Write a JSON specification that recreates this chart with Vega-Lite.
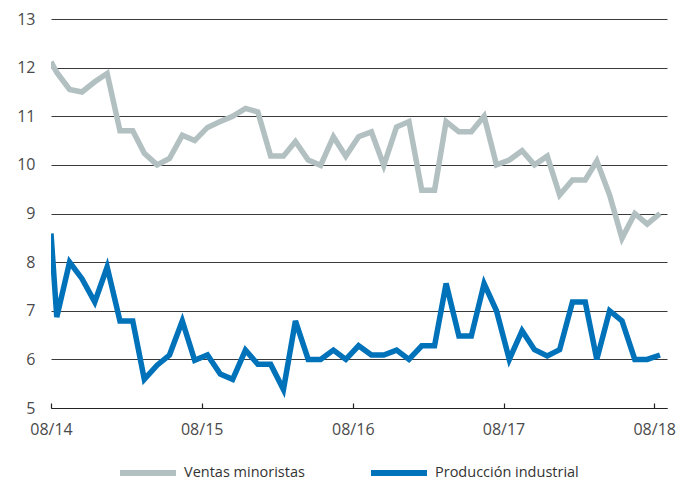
{
  "$schema": "https://vega.github.io/schema/vega-lite/v6.json",
  "autosize": "none",
  "width": 616,
  "height": 389,
  "padding": {"left": 51, "top": 19, "right": 29, "bottom": 74},
  "background": "white",
  "config": {
    "view": {"stroke": null},
    "font": "Open Sans",
    "axis": {"labelFont": "Open Sans", "labelFontSize": 16, "labelColor": "#4a4a4a"},
    "legend": {"labelFont": "Open Sans", "labelFontSize": 14.5, "labelColor": "#333333"}
  },
  "data": {
    "values": [
      {"d": "2014-08-01", "Ventas minoristas": 12.12, "Producción industrial": 8.59},
      {"d": "2014-08-15", "Ventas minoristas": 11.9, "Producción industrial": 6.87},
      {"d": "2014-09-15", "Ventas minoristas": 11.55, "Producción industrial": 8.0},
      {"d": "2014-10-15", "Ventas minoristas": 11.5, "Producción industrial": 7.66},
      {"d": "2014-11-15", "Ventas minoristas": 11.71, "Producción industrial": 7.18},
      {"d": "2014-12-15", "Ventas minoristas": 11.88, "Producción industrial": 7.9},
      {"d": "2015-01-15", "Ventas minoristas": 10.7, "Producción industrial": 6.79},
      {"d": "2015-02-15", "Ventas minoristas": 10.7, "Producción industrial": 6.79},
      {"d": "2015-03-15", "Ventas minoristas": 10.24, "Producción industrial": 5.59},
      {"d": "2015-04-15", "Ventas minoristas": 10.0, "Producción industrial": 5.88},
      {"d": "2015-05-15", "Ventas minoristas": 10.13, "Producción industrial": 6.09},
      {"d": "2015-06-15", "Ventas minoristas": 10.61, "Producción industrial": 6.79},
      {"d": "2015-07-15", "Ventas minoristas": 10.5, "Producción industrial": 5.98},
      {"d": "2015-08-15", "Ventas minoristas": 10.77, "Producción industrial": 6.09},
      {"d": "2015-09-15", "Ventas minoristas": 10.89, "Producción industrial": 5.7},
      {"d": "2015-10-15", "Ventas minoristas": 11.0, "Producción industrial": 5.59},
      {"d": "2015-11-15", "Ventas minoristas": 11.16, "Producción industrial": 6.19},
      {"d": "2015-12-15", "Ventas minoristas": 11.09, "Producción industrial": 5.9},
      {"d": "2016-01-15", "Ventas minoristas": 10.18, "Producción industrial": 5.9},
      {"d": "2016-02-15", "Ventas minoristas": 10.18, "Producción industrial": 5.38},
      {"d": "2016-03-15", "Ventas minoristas": 10.48, "Producción industrial": 6.79},
      {"d": "2016-04-15", "Ventas minoristas": 10.1, "Producción industrial": 6.0},
      {"d": "2016-05-15", "Ventas minoristas": 9.99, "Producción industrial": 6.0},
      {"d": "2016-06-15", "Ventas minoristas": 10.58, "Producción industrial": 6.19},
      {"d": "2016-07-15", "Ventas minoristas": 10.18, "Producción industrial": 6.0},
      {"d": "2016-08-15", "Ventas minoristas": 10.58, "Producción industrial": 6.28},
      {"d": "2016-09-15", "Ventas minoristas": 10.68, "Producción industrial": 6.09},
      {"d": "2016-10-15", "Ventas minoristas": 9.99, "Producción industrial": 6.09},
      {"d": "2016-11-15", "Ventas minoristas": 10.78, "Producción industrial": 6.19},
      {"d": "2016-12-15", "Ventas minoristas": 10.89, "Producción industrial": 6.0},
      {"d": "2017-01-15", "Ventas minoristas": 9.48, "Producción industrial": 6.28},
      {"d": "2017-02-15", "Ventas minoristas": 9.48, "Producción industrial": 6.28},
      {"d": "2017-03-15", "Ventas minoristas": 10.89, "Producción industrial": 7.56},
      {"d": "2017-04-15", "Ventas minoristas": 10.68, "Producción industrial": 6.48},
      {"d": "2017-05-15", "Ventas minoristas": 10.68, "Producción industrial": 6.48},
      {"d": "2017-06-15", "Ventas minoristas": 11.0, "Producción industrial": 7.56},
      {"d": "2017-07-15", "Ventas minoristas": 10.0, "Producción industrial": 7.0},
      {"d": "2017-08-15", "Ventas minoristas": 10.1, "Producción industrial": 6.0},
      {"d": "2017-09-15", "Ventas minoristas": 10.29, "Producción industrial": 6.59},
      {"d": "2017-10-15", "Ventas minoristas": 10.0, "Producción industrial": 6.2},
      {"d": "2017-11-15", "Ventas minoristas": 10.18, "Producción industrial": 6.07},
      {"d": "2017-12-15", "Ventas minoristas": 9.38, "Producción industrial": 6.2},
      {"d": "2018-01-15", "Ventas minoristas": 9.69, "Producción industrial": 7.18},
      {"d": "2018-02-15", "Ventas minoristas": 9.69, "Producción industrial": 7.18},
      {"d": "2018-03-15", "Ventas minoristas": 10.08, "Producción industrial": 6.0},
      {"d": "2018-04-15", "Ventas minoristas": 9.38, "Producción industrial": 7.0},
      {"d": "2018-05-15", "Ventas minoristas": 8.49, "Producción industrial": 6.79},
      {"d": "2018-06-15", "Ventas minoristas": 9.0, "Producción industrial": 6.0},
      {"d": "2018-07-15", "Ventas minoristas": 8.78, "Producción industrial": 6.0},
      {"d": "2018-08-15", "Ventas minoristas": 9.0, "Producción industrial": 6.09}
    ]
  },
  "transform": [
    {"fold": ["Ventas minoristas", "Producción industrial"], "as": ["serie", "valor"]}
  ],
  "mark": {"type": "line", "strokeWidth": 5.5, "strokeJoin": "miter", "strokeCap": "butt", "clip": true},
  "encoding": {
    "x": {
      "field": "d",
      "type": "temporal",
      "scale": {
        "type": "utc",
        "domain": [
          {"year": 2014, "month": 8, "date": 1, "utc": true},
          {"year": 2018, "month": 9, "date": 1, "utc": true}
        ]
      },
      "axis": {
        "title": null,
        "labelExpr": "utcFormat(datum.value, '%m/%y')",
        "values": [
          {"year": 2014, "month": 8, "date": 1, "utc": true},
          {"year": 2015, "month": 8, "date": 1, "utc": true},
          {"year": 2016, "month": 8, "date": 1, "utc": true},
          {"year": 2017, "month": 8, "date": 1, "utc": true},
          {"year": 2018, "month": 8, "date": 1, "utc": true}
        ],
        "grid": false,
        "domainColor": "#222222",
        "domainWidth": 1.2,
        "tickColor": "#222222",
        "tickSize": -5,
        "tickWidth": 1.2,
        "labelPadding": 18,
        "labelDx": 5,
        "labelFlush": false
      }
    },
    "y": {
      "field": "valor",
      "type": "quantitative",
      "scale": {"domain": [5, 13], "nice": false, "zero": false},
      "axis": {
        "title": null,
        "values": [5, 6, 7, 8, 9, 10, 11, 12, 13],
        "domain": false,
        "ticks": false,
        "labelPadding": 16,
        "gridColor": "#3a3a3a",
        "gridWidth": 1
      }
    },
    "color": {
      "field": "serie",
      "type": "nominal",
      "scale": {
        "domain": ["Ventas minoristas", "Producción industrial"],
        "range": ["#b2c0c1", "#0072ba"]
      },
      "legend": {
        "title": null,
        "orient": "none",
        "direction": "horizontal",
        "legendX": 66,
        "legendY": 446,
        "padding": 0,
        "clipHeight": 16,
        "symbolType": "stroke",
        "symbolSize": 3136,
        "symbolStrokeWidth": 6,
        "labelOffset": 5,
        "columnPadding": 63
      }
    }
  }
}
